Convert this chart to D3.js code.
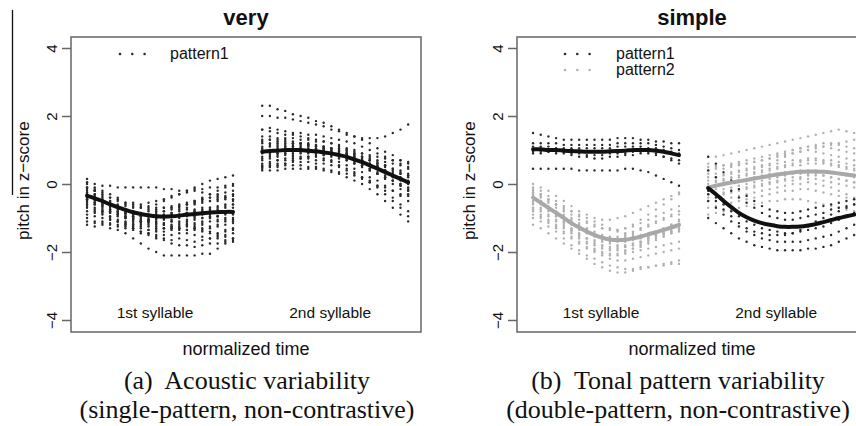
<!DOCTYPE html>
<html>
<head>
<meta charset="utf-8">
<script src="https://cdn.jsdelivr.net/npm/d3@7/dist/d3.min.js"></script>
<style>
body { margin: 0; background: #fff; }
svg text { font-family: "Liberation Sans", Arial, sans-serif; fill: #111; }
svg text.caption { font-family: "Liberation Serif", "Times New Roman", serif; white-space: pre; }
</style>
</head>
<body>
<svg id="chart" width="856" height="426"></svg>
<script>
// ---- data (pitch in z-score, 20 samples per syllable) ----
var yTicks = [-4, -2, 0, 2, 4];
var syllableLabels = ["1st syllable", "2nd syllable"];
var panelTitles = ["very", "simple"];
var captionsA = ["(a)  Acoustic variability", "(single-pattern, non-contrastive)"];
var captionsB = ["(b)  Tonal pattern variability", "(double-pattern, non-contrastive)"];

// "very" - pattern1, 1st syllable
var veryP1Syl1 = [
  [0.15,0.0,-0.05,-0.05,-0.1,-0.1,-0.1,-0.1,-0.1,-0.1,-0.15,-0.15,-0.2,-0.2,-0.15,-0.15,-0.1,-0.1,-0.05,-0.05],
  [-0.1,-0.2,-0.35,-0.5,-0.6,-0.65,-0.7,-0.7,-0.65,-0.6,-0.5,-0.4,-0.3,-0.2,-0.1,0.0,0.1,0.15,0.2,0.25],
  [-0.3,-0.35,-0.5,-0.6,-0.7,-0.8,-0.85,-0.9,-0.9,-0.85,-0.8,-0.7,-0.6,-0.55,-0.5,-0.45,-0.4,-0.4,-0.35,-0.3],
  [-0.4,-0.45,-0.55,-0.7,-0.85,-0.95,-1.0,-1.05,-1.05,-1.0,-1.0,-0.95,-0.9,-0.85,-0.8,-0.75,-0.7,-0.7,-0.65,-0.6],
  [-0.5,-0.6,-0.7,-0.8,-0.9,-1.0,-1.1,-1.15,-1.2,-1.2,-1.15,-1.1,-1.1,-1.05,-1.0,-1.0,-0.95,-0.95,-0.9,-0.9],
  [-0.6,-0.7,-0.8,-0.95,-1.05,-1.15,-1.25,-1.3,-1.35,-1.35,-1.3,-1.3,-1.25,-1.2,-1.2,-1.15,-1.1,-1.1,-1.05,-1.0],
  [-1.2,-1.25,-1.2,-1.3,-1.35,-1.45,-1.6,-1.75,-1.9,-2.0,-2.1,-2.1,-2.1,-2.1,-2.1,-2.05,-2.05,-1.9,-1.75,-1.6],
  [-0.2,-0.3,-0.4,-0.55,-0.65,-0.75,-0.8,-0.85,-0.8,-0.75,-0.7,-0.7,-0.65,-0.6,-0.6,-0.55,-0.5,-0.5,-0.45,-0.45],
  [-0.7,-0.75,-0.8,-0.85,-0.9,-1.0,-1.05,-1.1,-1.1,-1.15,-1.2,-1.25,-1.3,-1.35,-1.35,-1.4,-1.45,-1.5,-1.55,-1.6],
  [0.0,-0.1,-0.2,-0.3,-0.45,-0.55,-0.6,-0.65,-0.7,-0.7,-0.7,-0.65,-0.65,-0.6,-0.55,-0.5,-0.5,-0.45,-0.4,-0.35],
  [-0.9,-0.95,-1.0,-1.05,-1.1,-1.15,-1.2,-1.2,-1.25,-1.3,-1.3,-1.3,-1.35,-1.35,-1.3,-1.3,-1.25,-1.2,-1.2,-1.15],
  [-0.3,-0.4,-0.6,-0.75,-0.9,-1.0,-1.05,-1.1,-1.05,-1.0,-0.95,-0.9,-0.9,-0.85,-0.8,-0.8,-0.75,-0.8,-0.85,-0.85],
  [-1.0,-1.1,-1.15,-1.2,-1.25,-1.2,-1.15,-1.1,-1.05,-1.0,-0.95,-0.95,-0.9,-0.85,-0.85,-0.8,-0.8,-0.75,-0.7,-0.7],
  [-0.45,-0.5,-0.6,-0.65,-0.75,-0.85,-0.95,-1.0,-1.1,-1.15,-1.2,-1.2,-1.15,-1.1,-1.05,-1.0,-1.0,-1.05,-1.1,-1.1],
  [-0.55,-0.55,-0.65,-0.75,-0.8,-0.85,-0.9,-0.95,-0.95,-0.9,-0.9,-0.85,-0.8,-0.75,-0.75,-0.7,-0.7,-0.65,-0.6,-0.6],
  [-0.8,-0.85,-0.9,-1.0,-1.1,-1.2,-1.3,-1.4,-1.45,-1.5,-1.5,-1.5,-1.45,-1.45,-1.5,-1.55,-1.6,-1.6,-1.65,-1.7],
  [-0.1,-0.2,-0.3,-0.4,-0.5,-0.6,-0.65,-0.7,-0.75,-0.8,-0.8,-0.75,-0.7,-0.6,-0.5,-0.4,-0.3,-0.2,-0.1,0.0],
  [-0.35,-0.45,-0.55,-0.65,-0.8,-0.9,-1.0,-1.05,-1.1,-1.1,-1.05,-1.05,-1.0,-0.95,-0.95,-0.9,-0.9,-0.95,-1.0,-1.05],
  [-0.25,-0.2,-0.45,-0.5,-0.7,-0.75,-0.95,-0.9,-1.1,-1.05,-1.15,-1.1,-1.2,-1.15,-1.25,-1.2,-1.3,-1.25,-1.35,-1.3],
  [-0.65,-0.8,-0.85,-1.05,-1.1,-1.25,-1.3,-1.4,-1.45,-1.55,-1.6,-1.65,-1.6,-1.65,-1.7,-1.65,-1.6,-1.55,-1.5,-1.45],
  [0.05,-0.15,-0.25,-0.4,-0.4,-0.55,-0.55,-0.6,-0.55,-0.5,-0.45,-0.35,-0.3,-0.25,-0.2,-0.25,-0.3,-0.35,-0.4,-0.5],
  [-0.45,-0.6,-0.65,-0.8,-0.85,-0.95,-1.0,-1.1,-1.15,-1.25,-1.3,-1.25,-1.3,-1.2,-1.15,-1.1,-1.0,-0.95,-0.85,-0.8],
  [-0.15,-0.3,-0.5,-0.65,-0.7,-0.85,-0.9,-0.95,-1.0,-0.95,-0.9,-0.85,-0.75,-0.7,-0.55,-0.45,-0.4,-0.3,-0.25,-0.2],
  [-1.1,-1.15,-1.1,-1.15,-1.2,-1.3,-1.35,-1.45,-1.5,-1.6,-1.65,-1.75,-1.8,-1.8,-1.85,-1.8,-1.75,-1.75,-1.7,-1.65],
  [-0.5,-0.55,-0.75,-0.85,-0.95,-1.1,-1.2,-1.25,-1.35,-1.4,-1.4,-1.35,-1.3,-1.25,-1.3,-1.35,-1.4,-1.45,-1.4,-1.35]
];
var veryMeanSyl1 = [-0.35,-0.42,-0.5,-0.6,-0.68,-0.76,-0.83,-0.88,-0.92,-0.95,-0.96,-0.95,-0.93,-0.9,-0.88,-0.86,-0.84,-0.83,-0.82,-0.82];

// "very" - pattern1, 2nd syllable
var veryP1Syl2 = [
  [2.3,2.3,2.2,2.15,2.05,2.0,1.95,1.85,1.8,1.7,1.6,1.5,1.4,1.3,1.2,1.05,0.95,0.85,0.7,0.6],
  [2.0,2.0,1.95,1.95,1.9,1.85,1.8,1.75,1.7,1.6,1.55,1.45,1.4,1.35,1.35,1.35,1.4,1.5,1.6,1.75],
  [1.6,1.55,1.5,1.45,1.45,1.4,1.35,1.3,1.25,1.2,1.1,1.0,0.9,0.8,0.7,0.55,0.4,0.2,0.0,-0.2],
  [1.3,1.3,1.25,1.25,1.2,1.2,1.15,1.15,1.1,1.05,1.0,0.95,0.9,0.8,0.7,0.6,0.5,0.4,0.3,0.2],
  [1.1,1.15,1.2,1.2,1.2,1.2,1.2,1.15,1.1,1.05,1.0,0.9,0.8,0.7,0.6,0.5,0.4,0.3,0.2,0.1],
  [0.9,0.95,1.0,1.05,1.05,1.05,1.0,1.0,0.95,0.9,0.85,0.75,0.65,0.55,0.45,0.3,0.15,0.0,-0.15,-0.3],
  [0.7,0.75,0.8,0.85,0.85,0.9,0.9,0.9,0.85,0.8,0.75,0.7,0.6,0.5,0.4,0.3,0.2,0.1,0.0,-0.1],
  [0.5,0.55,0.6,0.6,0.65,0.65,0.65,0.6,0.6,0.55,0.5,0.4,0.3,0.2,0.1,-0.05,-0.2,-0.4,-0.6,-0.8],
  [0.4,0.4,0.4,0.45,0.45,0.45,0.45,0.45,0.4,0.35,0.3,0.2,0.1,0.0,-0.15,-0.3,-0.5,-0.7,-0.9,-1.1],
  [1.0,1.0,1.05,1.1,1.1,1.1,1.1,1.05,1.05,1.0,0.95,0.9,0.85,0.75,0.7,0.6,0.55,0.45,0.4,0.3],
  [0.8,0.85,0.9,0.95,1.0,1.0,1.0,1.0,1.0,0.95,0.9,0.85,0.8,0.7,0.6,0.5,0.35,0.25,0.1,0.0],
  [1.2,1.2,1.15,1.1,1.1,1.05,1.05,1.0,1.0,0.95,0.9,0.85,0.75,0.65,0.55,0.45,0.35,0.25,0.15,0.05],
  [0.6,0.65,0.7,0.75,0.8,0.8,0.8,0.8,0.75,0.7,0.65,0.55,0.45,0.35,0.2,0.1,-0.05,-0.2,-0.35,-0.5],
  [1.4,1.4,1.35,1.3,1.25,1.2,1.15,1.1,1.05,1.0,0.95,0.9,0.85,0.8,0.75,0.7,0.65,0.6,0.55,0.5],
  [0.95,0.9,0.9,0.9,0.95,0.95,0.95,0.9,0.9,0.85,0.8,0.7,0.6,0.5,0.4,0.3,0.2,0.1,-0.05,-0.15],
  [0.5,0.5,0.55,0.6,0.7,0.75,0.8,0.85,0.85,0.85,0.85,0.8,0.75,0.7,0.6,0.5,0.4,0.35,0.3,0.25],
  [1.25,1.3,1.3,1.35,1.35,1.3,1.3,1.25,1.25,1.2,1.15,1.05,1.0,0.9,0.8,0.65,0.55,0.45,0.35,0.25],
  [0.45,0.5,0.5,0.55,0.55,0.55,0.5,0.5,0.45,0.4,0.35,0.3,0.25,0.15,0.05,-0.05,-0.1,-0.2,-0.3,-0.35],
  [1.05,1.1,1.1,1.15,1.15,1.15,1.15,1.1,1.1,1.05,1.05,1.0,0.95,0.9,0.85,0.8,0.75,0.7,0.7,0.65],
  [0.75,0.8,0.85,0.9,0.9,0.95,0.95,0.95,0.95,0.9,0.85,0.75,0.7,0.55,0.45,0.35,0.25,0.1,-0.05,-0.2],
  [1.6,1.65,1.6,1.55,1.5,1.5,1.45,1.45,1.4,1.35,1.3,1.25,1.2,1.1,1.0,0.9,0.8,0.7,0.6,0.45],
  [0.55,0.6,0.7,0.7,0.75,0.75,0.75,0.7,0.7,0.65,0.55,0.45,0.35,0.2,0.05,-0.1,-0.3,-0.5,-0.7,-0.95]
];
var veryMeanSyl2 = [0.95,0.97,0.98,1.0,1.0,1.0,0.98,0.96,0.93,0.9,0.85,0.8,0.72,0.64,0.55,0.45,0.35,0.25,0.15,0.05];

// "simple" - pattern1 (black), 1st syllable
var simpleP1Syl1 = [
  [1.5,1.45,1.4,1.35,1.3,1.3,1.3,1.3,1.3,1.3,1.3,1.35,1.35,1.35,1.3,1.3,1.25,1.25,1.2,1.2],
  [1.2,1.2,1.2,1.2,1.15,1.15,1.15,1.15,1.15,1.15,1.15,1.2,1.2,1.2,1.2,1.2,1.15,1.1,1.05,1.0],
  [1.1,1.1,1.1,1.05,1.05,1.05,1.05,1.05,1.05,1.05,1.05,1.1,1.1,1.1,1.1,1.05,1.05,1.0,0.95,0.9],
  [0.95,0.95,0.95,0.9,0.9,0.85,0.8,0.8,0.75,0.75,0.8,0.8,0.85,0.85,0.9,0.9,0.85,0.8,0.75,0.7],
  [0.45,0.45,0.45,0.45,0.45,0.45,0.4,0.4,0.4,0.4,0.4,0.4,0.45,0.45,0.4,0.35,0.25,0.15,0.05,-0.05],
  [0.9,0.9,0.95,0.95,0.95,0.9,0.9,0.85,0.85,0.85,0.9,0.9,0.9,0.95,0.95,0.95,0.9,0.8,0.7,0.6]
];
var simpleMeanP1Syl1 = [1.02,1.02,1.0,1.0,0.98,0.97,0.96,0.95,0.95,0.95,0.96,0.97,0.98,1.0,1.0,1.0,0.98,0.95,0.9,0.85];

// "simple" - pattern2 (grey), 1st syllable
var simpleP2Syl1 = [
  [0.0,-0.1,-0.2,-0.35,-0.5,-0.65,-0.8,-0.9,-1.0,-1.05,-1.05,-1.0,-0.95,-0.85,-0.75,-0.65,-0.55,-0.45,-0.35,-0.25],
  [-0.2,-0.3,-0.45,-0.6,-0.75,-0.9,-1.05,-1.15,-1.25,-1.3,-1.35,-1.35,-1.3,-1.25,-1.15,-1.05,-0.95,-0.85,-0.75,-0.65],
  [-0.4,-0.5,-0.65,-0.8,-0.95,-1.1,-1.25,-1.4,-1.5,-1.6,-1.65,-1.65,-1.6,-1.55,-1.5,-1.45,-1.4,-1.3,-1.2,-1.1],
  [-0.6,-0.75,-0.9,-1.05,-1.2,-1.35,-1.5,-1.6,-1.7,-1.8,-1.85,-1.85,-1.85,-1.8,-1.75,-1.7,-1.6,-1.5,-1.45,-1.4],
  [-0.8,-0.95,-1.1,-1.25,-1.4,-1.55,-1.7,-1.85,-1.95,-2.05,-2.1,-2.1,-2.05,-2.0,-1.95,-1.9,-1.85,-1.8,-1.75,-1.7],
  [-1.0,-1.1,-1.25,-1.4,-1.6,-1.8,-1.95,-2.1,-2.2,-2.3,-2.4,-2.45,-2.5,-2.5,-2.45,-2.45,-2.4,-2.4,-2.35,-2.35],
  [-0.3,-0.4,-0.5,-0.6,-0.7,-0.8,-0.9,-1.0,-1.1,-1.2,-1.3,-1.4,-1.45,-1.5,-1.55,-1.55,-1.5,-1.45,-1.4,-1.3],
  [-0.5,-0.6,-0.75,-0.95,-1.15,-1.35,-1.55,-1.75,-1.9,-2.0,-2.05,-2.05,-2.0,-1.9,-1.8,-1.65,-1.5,-1.35,-1.2,-1.05],
  [-1.2,-1.3,-1.45,-1.6,-1.75,-1.9,-2.05,-2.2,-2.35,-2.45,-2.55,-2.6,-2.6,-2.55,-2.5,-2.45,-2.4,-2.35,-2.3,-2.25],
  [-0.1,-0.2,-0.35,-0.5,-0.65,-0.8,-0.95,-1.1,-1.2,-1.3,-1.35,-1.35,-1.3,-1.2,-1.05,-0.9,-0.75,-0.6,-0.45,-0.3],
  [-0.7,-0.8,-0.95,-1.1,-1.25,-1.4,-1.5,-1.6,-1.65,-1.7,-1.7,-1.7,-1.7,-1.65,-1.6,-1.55,-1.5,-1.45,-1.4,-1.35],
  [-0.35,-0.5,-0.7,-0.9,-1.1,-1.3,-1.45,-1.6,-1.75,-1.85,-1.9,-1.9,-1.85,-1.8,-1.7,-1.6,-1.5,-1.4,-1.3,-1.2],
  [-0.9,-1.0,-1.15,-1.3,-1.45,-1.6,-1.75,-1.9,-2.0,-2.1,-2.2,-2.25,-2.25,-2.2,-2.15,-2.1,-2.05,-2.0,-1.95,-1.9],
  [-0.15,-0.3,-0.45,-0.6,-0.8,-1.0,-1.15,-1.3,-1.4,-1.5,-1.55,-1.55,-1.5,-1.4,-1.3,-1.2,-1.1,-1.0,-0.95,-0.9],
  [-0.25,-0.35,-0.55,-0.7,-0.9,-1.05,-1.2,-1.35,-1.45,-1.55,-1.6,-1.6,-1.55,-1.45,-1.35,-1.25,-1.15,-1.05,-0.9,-0.8],
  [-0.55,-0.7,-0.8,-0.95,-1.1,-1.2,-1.35,-1.45,-1.55,-1.65,-1.75,-1.8,-1.8,-1.75,-1.7,-1.6,-1.55,-1.45,-1.35,-1.25],
  [-0.75,-0.9,-1.05,-1.2,-1.3,-1.45,-1.6,-1.7,-1.8,-1.9,-1.95,-1.95,-1.95,-1.9,-1.85,-1.75,-1.65,-1.55,-1.45,-1.35]
];
var simpleMeanP2Syl1 = [-0.4,-0.55,-0.7,-0.85,-1.0,-1.15,-1.28,-1.4,-1.5,-1.58,-1.63,-1.65,-1.64,-1.6,-1.55,-1.48,-1.42,-1.35,-1.28,-1.2];

// "simple" - pattern1 (black), 2nd syllable
var simpleP1Syl2 = [
  [0.8,0.6,0.35,0.1,-0.15,-0.35,-0.5,-0.65,-0.75,-0.8,-0.85,-0.85,-0.8,-0.75,-0.7,-0.65,-0.6,-0.55,-0.5,-0.45],
  [0.4,0.2,0.0,-0.2,-0.4,-0.55,-0.7,-0.85,-0.95,-1.0,-1.05,-1.05,-1.0,-0.95,-0.9,-0.85,-0.75,-0.7,-0.65,-0.6],
  [-0.2,-0.4,-0.6,-0.8,-0.95,-1.1,-1.2,-1.3,-1.35,-1.4,-1.45,-1.45,-1.4,-1.35,-1.3,-1.25,-1.15,-1.05,-0.95,-0.85],
  [-0.5,-0.7,-0.9,-1.1,-1.25,-1.4,-1.5,-1.6,-1.65,-1.7,-1.7,-1.7,-1.7,-1.65,-1.6,-1.55,-1.5,-1.4,-1.3,-1.2],
  [-1.0,-1.15,-1.3,-1.45,-1.6,-1.7,-1.8,-1.85,-1.9,-1.95,-1.95,-1.95,-1.95,-1.9,-1.9,-1.85,-1.8,-1.7,-1.6,-1.5],
  [-0.3,-0.5,-0.75,-0.95,-1.15,-1.3,-1.4,-1.45,-1.5,-1.5,-1.5,-1.45,-1.35,-1.25,-1.1,-1.0,-0.9,-0.8,-0.7,-0.6]
];
var simpleMeanP1Syl2 = [-0.12,-0.3,-0.5,-0.68,-0.85,-0.98,-1.08,-1.15,-1.2,-1.24,-1.26,-1.26,-1.25,-1.22,-1.18,-1.12,-1.06,-1.0,-0.95,-0.9];

// "simple" - pattern2 (grey), 2nd syllable
var simpleP2Syl2 = [
  [0.8,0.8,0.85,0.9,0.95,1.0,1.05,1.1,1.15,1.2,1.25,1.3,1.35,1.4,1.45,1.5,1.55,1.6,1.55,1.5],
  [0.5,0.5,0.55,0.6,0.65,0.7,0.75,0.8,0.85,0.9,0.95,1.0,1.05,1.1,1.1,1.1,1.05,1.0,0.95,0.9],
  [0.2,0.2,0.25,0.3,0.35,0.4,0.45,0.5,0.55,0.6,0.65,0.7,0.7,0.75,0.75,0.7,0.7,0.65,0.6,0.55],
  [-0.1,-0.05,0.0,0.05,0.1,0.15,0.2,0.25,0.3,0.3,0.35,0.35,0.4,0.4,0.4,0.35,0.35,0.3,0.25,0.2],
  [-0.4,-0.35,-0.3,-0.25,-0.2,-0.15,-0.1,-0.05,0.0,0.05,0.1,0.1,0.15,0.15,0.15,0.1,0.05,0.0,-0.05,-0.1],
  [-0.7,-0.65,-0.6,-0.55,-0.5,-0.45,-0.4,-0.35,-0.3,-0.25,-0.2,-0.2,-0.15,-0.15,-0.2,-0.25,-0.3,-0.35,-0.4,-0.45],
  [-0.9,-0.85,-0.8,-0.75,-0.7,-0.65,-0.6,-0.55,-0.5,-0.5,-0.45,-0.45,-0.45,-0.5,-0.55,-0.6,-0.65,-0.7,-0.75,-0.8],
  [0.6,0.55,0.55,0.55,0.6,0.6,0.65,0.7,0.75,0.8,0.85,0.9,0.95,1.0,1.05,1.1,1.15,1.2,1.25,1.3],
  [0.0,0.05,0.1,0.15,0.2,0.25,0.3,0.35,0.4,0.45,0.5,0.55,0.55,0.6,0.6,0.6,0.55,0.5,0.45,0.4],
  [-0.3,-0.3,-0.25,-0.2,-0.15,-0.1,-0.05,0.0,0.05,0.1,0.15,0.2,0.2,0.25,0.25,0.25,0.2,0.15,0.1,0.05],
  [0.3,0.3,0.3,0.35,0.4,0.45,0.5,0.55,0.6,0.7,0.8,0.9,0.95,1.0,0.95,0.9,0.85,0.8,0.75,0.7],
  [-0.5,-0.5,-0.45,-0.4,-0.35,-0.3,-0.25,-0.2,-0.15,-0.1,-0.05,0.0,0.0,0.05,0.0,-0.05,-0.1,-0.2,-0.3,-0.4],
  [0.1,0.1,0.15,0.2,0.25,0.3,0.35,0.4,0.45,0.5,0.55,0.6,0.65,0.7,0.7,0.65,0.6,0.55,0.5,0.45],
  [-0.2,-0.15,-0.15,-0.1,-0.05,0.0,0.05,0.1,0.15,0.2,0.25,0.3,0.3,0.3,0.3,0.25,0.2,0.15,0.1,0.05],
  [0.4,0.45,0.45,0.5,0.55,0.6,0.65,0.7,0.75,0.85,0.9,1.0,1.05,1.1,1.15,1.2,1.2,1.15,1.1,1.05]
];
var simpleMeanP2Syl2 = [-0.1,-0.05,0.0,0.04,0.08,0.12,0.16,0.2,0.24,0.28,0.31,0.34,0.36,0.37,0.37,0.36,0.34,0.31,0.28,0.25];

// ---- layout ----
var black = "#2a2a2a", grey = "#b0b0b0";
var plotW = 350, plotH = 295;
var syllableStart = [0, 1.2];   // normalized time where each syllable begins

var svg = d3.select("#chart");

var x = d3.scaleLinear().domain([-0.11, 2.288]).range([0, plotW]);
var y = d3.scaleLinear().domain([-4, 4]).range([283, 11]);
var yAxis = d3.axisLeft(y).tickValues(yTicks).tickSize(9).tickPadding(4);

function tOf(i, n) { return i / (n - 1); }

var line = d3.line()
    .x(function(d){ return d.x; })
    .y(function(d){ return d.y; })
    .curve(d3.curveCatmullRom);

var panels = [
  {left: 71, title: panelTitles[0], captions: captionsA, capX: 247,
   groups: [
     {data: veryP1Syl1, mean: veryMeanSyl1, syl: 0, color: black},
     {data: veryP1Syl2, mean: veryMeanSyl2, syl: 1, color: black}
   ],
   legend: [{label: "pattern1", color: black}], legendX: 120, legendTextX: 170},
  {left: 517, title: panelTitles[1], captions: captionsB, capX: 678,
   groups: [
     {data: simpleP2Syl1, mean: simpleMeanP2Syl1, syl: 0, color: grey},
     {data: simpleP2Syl2, mean: simpleMeanP2Syl2, syl: 1, color: grey},
     {data: simpleP1Syl1, mean: simpleMeanP1Syl1, syl: 0, color: black},
     {data: simpleP1Syl2, mean: simpleMeanP1Syl2, syl: 1, color: black}
   ],
   legend: [{label: "pattern1", color: black}, {label: "pattern2", color: grey}], legendX: 565, legendTextX: 616}
];

// stray rule at the far left of the original figure
svg.append("line")
    .attr("x1", 12.5).attr("x2", 12.5)
    .attr("y1", 10).attr("y2", 195)
    .attr("stroke", "#111").attr("stroke-width", 1.3);

panels.forEach(function(p){
    var g = svg.append("g").attr("transform", "translate(" + p.left + ",37)");

    // dots and mean curves
    p.groups.forEach(function(gr){
        gr.data.forEach(function(contour){
            g.append("g").selectAll("circle")
                .data(contour)
                .enter()
                .append("circle")
                .attr("cx", function(d, i){ return x(syllableStart[gr.syl] + tOf(i, contour.length)); })
                .attr("cy", function(d){ return y(d); })
                .attr("r", 1.2)
                .attr("fill", gr.color);
        });
    });
    p.groups.forEach(function(gr){
        var pts = gr.mean.map(function(d, i){
            return {x: x(syllableStart[gr.syl] + tOf(i, gr.mean.length)), y: y(d)};
        });
        g.append("path")
            .attr("d", line(pts))
            .attr("fill", "none")
            .attr("stroke", gr.color === black ? "#111" : "#a8a8a8")
            .attr("stroke-width", 4)
            .attr("stroke-linecap", "round");
    });

    // box
    g.append("rect")
        .attr("x", 0).attr("y", 0)
        .attr("width", plotW).attr("height", plotH)
        .attr("fill", "none")
        .attr("stroke", "#666")
        .attr("stroke-width", 1.5);

    // y axis
    var ax = g.append("g")
        .attr("class", "y axis")
        .call(yAxis);
    ax.select(".domain").remove();
    ax.selectAll(".tick line").attr("stroke", "#666").attr("stroke-width", 1.5).attr("x2", -9).attr("x1", 0);
    ax.selectAll(".tick text")
        .attr("font-size", 15)
        .attr("font-family", "Liberation Sans, Arial, sans-serif")
        .attr("fill", "#111")
        .attr("text-anchor", "middle")
        .attr("dy", null)
        .attr("transform", "rotate(-90)")
        .attr("x", 0)
        .attr("y", -14);

    // title
    g.append("text")
        .attr("x", plotW / 2).attr("y", -12)
        .attr("text-anchor", "middle")
        .attr("font-size", 22)
        .attr("font-weight", "bold")
        .text(p.title);

    // syllable labels
    syllableLabels.forEach(function(lab, k){
        g.append("text")
            .attr("x", x(syllableStart[k] + 0.5) - 5)
            .attr("y", 281)
            .attr("text-anchor", "middle")
            .attr("font-size", 15.5)
            .text(lab);
    });

    // axis labels
    g.append("text")
        .attr("x", plotW / 2).attr("y", 318)
        .attr("text-anchor", "middle")
        .attr("font-size", 18)
        .text("normalized time");
    g.append("text")
        .attr("transform", "translate(-42," + y(0.1) + ") rotate(-90)")
        .attr("text-anchor", "middle")
        .attr("font-size", 17)
        .text("pitch in z\u2212score");

    // legend
    p.legend.forEach(function(l, k){
        var ly = 54 + k * 16;
        svg.append("g").selectAll("circle")
            .data([0, 1, 2])
            .enter()
            .append("circle")
            .attr("cx", function(d){ return p.legendX + d * 12.3; })
            .attr("cy", ly)
            .attr("r", 1.3)
            .attr("fill", l.color);
        svg.append("text")
            .attr("x", p.legendTextX).attr("y", ly + 5)
            .attr("font-size", 16)
            .text(l.label);
    });

    // captions
    p.captions.forEach(function(c, k){
        svg.append("text")
            .attr("class", "caption")
            .attr("x", p.capX).attr("y", 389 + k * 29)
            .attr("text-anchor", "middle")
            .attr("font-size", 26)
            .text(c);
    });
});
</script>
</body>
</html>
